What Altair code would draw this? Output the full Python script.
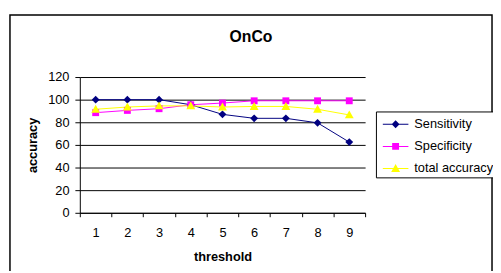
import altair as alt
import pandas as pd

thresholds = [1, 2, 3, 4, 5, 6, 7, 8, 9]
sensitivity = [100, 100, 100, 95.5, 87, 83.5, 83.5, 79.5, 62.5]
specificity = [88.5, 90.5, 92, 95.5, 97, 99, 99, 99, 99]
total_accuracy = [91.5, 93.5, 94.5, 94.5, 93.5, 94, 94, 91.5, 86.5]

series_names = ["Sensitivity", "Specificity", "total accuracy"]
series_colors = ["#000080", "#FF00FF", "#FFFF00"]
chart_title = "OnCo"

rows = []
for name, vals in zip(series_names, [sensitivity, specificity, total_accuracy]):
    for t, v in zip(thresholds, vals):
        rows.append({"threshold": t, "accuracy": v, "series": name, "series_m": name})
df = pd.DataFrame(rows)

FONT = "Liberation Sans"

# marker-only paths (plot) and line+marker paths (legend)
diamond = "M0,-0.4L0.4,0L0,0.4L-0.4,0Z"
square = "M-0.35,-0.35H0.35V0.35H-0.35Z"
triangle = "M0,-0.45L0.45,0.35L-0.45,0.35Z"
line = "M-1.3,-0.05H1.3V0.05H-1.3Z"
marker_paths = [diamond, square, triangle]
legend_paths = [line + m for m in marker_paths]

color_scale = alt.Scale(domain=series_names, range=series_colors)

x_enc = alt.X(
    "threshold:O",
    scale=alt.Scale(type="band", paddingInner=0, paddingOuter=0),
    axis=alt.Axis(
        title="threshold", labelAngle=0, tickBand="extent", tickSize=4,
        labelPadding=10, titlePadding=12, domainColor="#000", tickColor="#000",
        labelFont=FONT, labelFontSize=13, labelColor="#000",
        titleFont=FONT, titleFontSize=13, titleFontWeight="bold", titleColor="#000",
    ),
)
y_enc = alt.Y(
    "accuracy:Q",
    scale=alt.Scale(domain=[0, 120], nice=False),
    axis=alt.Axis(
        title="accuracy", values=[0, 20, 40, 60, 80, 100, 120], grid=True,
        gridColor="#000", gridOpacity=1, tickSize=5, labelPadding=6,
        labelFlush=False, titlePadding=8, domainColor="#000", tickColor="#000",
        labelFont=FONT, labelFontSize=13, labelColor="#000",
        titleFont=FONT, titleFontSize=13, titleFontWeight="bold", titleColor="#000",
    ),
)

base = alt.Chart(df)
one = pd.DataFrame({"a": [0]})

frame = alt.Chart(one).mark_rect(
    fill="transparent", stroke="#000", strokeWidth=1.5
).encode(
    x=alt.value(-71), x2=alt.value(419), y=alt.value(-63), y2=alt.value(260)
)

title = alt.Chart(one).mark_text(
    font=FONT, fontSize=16, fontWeight="bold", color="#000", baseline="middle", align="center"
).encode(x=alt.value(174), y=alt.value(-41), text=alt.value(chart_title))

lines = base.mark_line(strokeWidth=1).encode(
    x=x_enc, y=y_enc,
    color=alt.Color("series:N", scale=color_scale, legend=None),
)

points = base.mark_point(filled=True, size=400, opacity=1).encode(
    x=x_enc, y=y_enc,
    color=alt.Color("series:N", scale=color_scale, legend=None),
    shape=alt.Shape("series_m:N", scale=alt.Scale(domain=series_names, range=marker_paths), legend=None),
)

legend_layer = base.mark_point(filled=True, size=400, opacity=1).encode(
    x=alt.value(-600), y=alt.value(-600),
    color=alt.Color("series:N", scale=color_scale, legend=None),
    shape=alt.Shape(
        "series:N",
        scale=alt.Scale(domain=series_names, range=legend_paths),
        legend=alt.Legend(
            title=None, orient="none", legendX=301, legendY=35,
            strokeColor="#000", fillColor="#fff", padding=2,
            symbolSize=400, rowPadding=4.5, symbolOffset=7, labelOffset=8,
            labelFont=FONT, labelFontSize=13, labelColor="#000",
            symbolFillColor=alt.ExprRef(expr="scale('color', datum.value)"),
            symbolStrokeColor="transparent", symbolOpacity=1,
        ),
    ),
)

chart = alt.layer(frame, title, lines, points, legend_layer).resolve_scale(
    shape="independent"
).properties(
    width=290,
    height=138,
    autosize=alt.AutoSizeParams(type="none"),
    padding={"left": 73, "top": 68, "right": 130, "bottom": 57},
).configure_view(stroke=None)

chart.save("out.html", embed_options={"renderer": "svg", "actions": False})
